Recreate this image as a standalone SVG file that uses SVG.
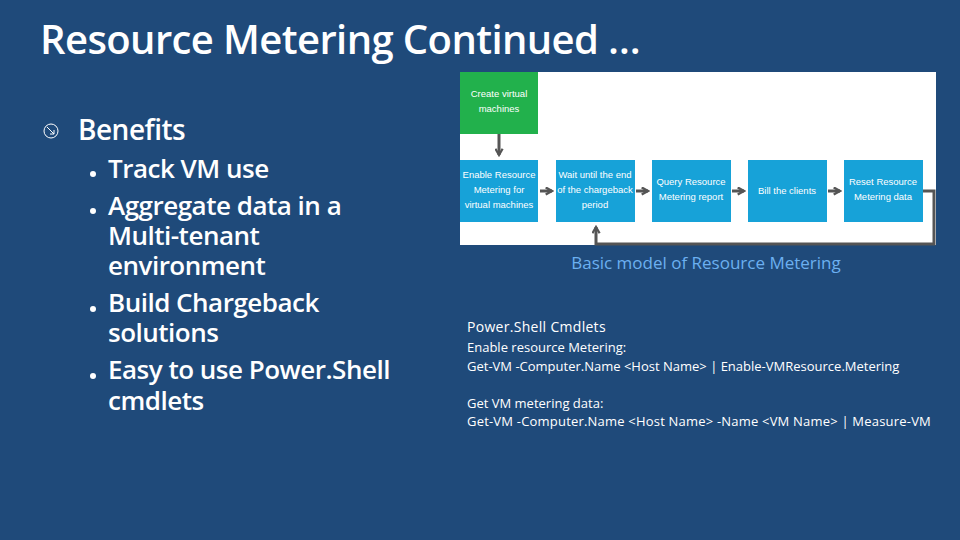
<svg xmlns="http://www.w3.org/2000/svg" width="960" height="540" viewBox="0 0 960 540">
<defs>
<style>
.t{font-family:"Open Sans","Liberation Sans",sans-serif;fill:#fff}
.h{font-family:"Open Sans","Liberation Sans",sans-serif;font-weight:600;fill:#fff}
.box{fill:#17a2d8}
.bt{font-family:"Liberation Sans",sans-serif;font-size:9.5px;fill:#fff;text-anchor:middle}
.c{stroke:#555;stroke-width:3;fill:none}
</style>
<marker id="a" viewBox="0 0 10 10" refX="8" refY="5" markerWidth="3" markerHeight="3" orient="auto"><path d="M1,1 L8,5 L1,9" fill="none" stroke="#555" stroke-width="2.5"/></marker>
</defs>
<rect width="960" height="540" fill="#1f4a7a"/>
<text x="40" y="54" class="h" font-size="40" letter-spacing="-0.6">Resource Metering Continued …</text>
<g id="benefits">
<circle cx="51" cy="131" r="7" fill="none" stroke="#fff" stroke-width="1"/>
<path d="M47,127 L54,134 M54,130 L54,134 L50,134" fill="none" stroke="#fff" stroke-width="1"/>
<text x="78" y="140" class="h" font-size="28" letter-spacing="-0.5">Benefits</text>
<g class="h" font-size="26" letter-spacing="-0.5">
<circle cx="93" cy="174" r="3" fill="#fff"/><text x="108" y="178">Track VM use</text>
<circle cx="93" cy="211" r="3" fill="#fff"/><text x="108" y="215">Aggregate data in a</text>
<text x="108" y="245">Multi-tenant</text><text x="108" y="275">environment</text>
<circle cx="93" cy="309" r="3" fill="#fff"/><text x="108" y="312">Build Chargeback</text>
<text x="108" y="342">solutions</text>
<circle cx="93" cy="376" r="3" fill="#fff"/><text x="108" y="379">Easy to use Power.Shell</text>
<text x="108" y="410">cmdlets</text>
</g>
</g>
<rect x="460" y="72" width="476" height="173" fill="#fff"/>
<g id="n0"><rect x="460" y="72" width="78" height="62" fill="#22b14c"/><text class="bt" x="499" y="97">Create virtual</text><text class="bt" x="499" y="112">machines</text></g>
<g id="n1"><rect class="box" x="460" y="160" width="78" height="62"/><text class="bt" x="499" y="178">Enable Resource</text><text class="bt" x="499" y="193">Metering for</text><text class="bt" x="499" y="208">virtual machines</text></g>
<g id="n2"><rect class="box" x="556" y="160" width="79" height="62"/><text class="bt" x="595" y="178">Wait until the end</text><text class="bt" x="595" y="193">of the chargeback</text><text class="bt" x="595" y="208">period</text></g>
<g id="n3"><rect class="box" x="652" y="160" width="79" height="62"/><text class="bt" x="691" y="185">Query Resource</text><text class="bt" x="691" y="200">Metering report</text></g>
<g id="n4"><rect class="box" x="748" y="160" width="79" height="62"/><text class="bt" x="787" y="194">Bill the clients</text></g>
<g id="n5"><rect class="box" x="844" y="160" width="79" height="62"/><text class="bt" x="883" y="185">Reset Resource</text><text class="bt" x="883" y="200">Metering data</text></g>
<g id="connectors">
<path class="c" d="M499,134 V155" marker-end="url(#a)"/>
<path class="c" d="M540,191 H552" marker-end="url(#a)"/>
<path class="c" d="M636,191 H648" marker-end="url(#a)"/>
<path class="c" d="M732,191 H744" marker-end="url(#a)"/>
<path class="c" d="M828,191 H840" marker-end="url(#a)"/>
<path class="c" d="M923,191 H934 V244 H596 V227" marker-end="url(#a)"/>
</g>
<text x="706" y="269" class="t" font-size="17" style="fill:#6cb0f0" text-anchor="middle">Basic model of Resource Metering</text>
<g class="t" font-size="13">
<text x="467" y="332" font-size="14" letter-spacing="0.3">Power.Shell Cmdlets</text>
<text x="467" y="352">Enable resource Metering:</text>
<text x="467" y="371">Get-VM -Computer.Name &lt;Host Name&gt; | Enable-VMResource.Metering</text>
<text x="467" y="408">Get VM metering data:</text>
<text x="467" y="426" letter-spacing="0.2">Get-VM -Computer.Name &lt;Host Name&gt; -Name &lt;VM Name&gt; | Measure-VM</text>
</g>
</svg>
